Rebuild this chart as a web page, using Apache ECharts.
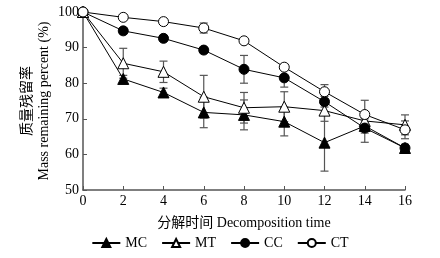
<!DOCTYPE html>
<html>
<head>
<meta charset="utf-8">
<script src="https://cdn.jsdelivr.net/npm/echarts@6/dist/echarts.min.js"></script>
<style>
html,body{margin:0;padding:0;background:#fff;}
#main{width:440px;height:258px;}
</style>
</head>
<body>
<div id="main"></div>
<script>
var days = [0, 2, 4, 6, 8, 10, 12, 14, 16];
var names = ['MC', 'MT', 'CC', 'CT'];
var mcVal = [100, 81.2, 77.4, 71.8, 71.1, 69.2, 63.3, 68.0, 61.8];
var mtVal = [100, 85.6, 83.2, 76.2, 73.1, 73.4, 72.3, 69.4, 68.3];
var ccVal = [100, 94.7, 92.6, 89.3, 83.9, 81.5, 74.8, 67.4, 61.8];
var ctVal = [100, 98.5, 97.3, 95.5, 91.9, 84.5, 77.6, 71.2, 66.9];
var mcErr = [0, 1.0, 1.2, 4.3, 4.2, 4.0, 8.0, 2.0, 1.0];
var mtErr = [0, 4.2, 3.0, 6.0, 4.3, 4.2, 3.0, 2.0, 2.8];
var ccErr = [0, 0.8, 0.8, 0.8, 3.9, 2.6, 1.5, 4.0, 1.0];
var ctErr = [0, 0.5, 0.5, 1.4, 0.5, 0.8, 2.0, 4.0, 2.5];

var font = "'Times New Roman','Liberation Serif','Noto Sans CJK SC',serif";

function pts(vals) {
    return days.map(function (d, i) { return [d, vals[i]]; });
}
function errData(vals, errs) {
    return days.map(function (d, i) { return [d, vals[i] - errs[i], vals[i] + errs[i]]; });
}
// 误差线
function errSeries(vals, errs) {
    return {
        type: 'custom',
        silent: true,
        z: 1,
        data: errData(vals, errs),
        renderItem: function (params, api) {
            var lo = api.coord([api.value(0), api.value(1)]);
            var hi = api.coord([api.value(0), api.value(2)]);
            var w = 4;
            var st = { stroke: '#555', lineWidth: 1.2 };
            return {
                type: 'group',
                children: [
                    { type: 'line', shape: { x1: lo[0], y1: lo[1], x2: hi[0], y2: hi[1] }, style: st },
                    { type: 'line', shape: { x1: lo[0] - w, y1: lo[1], x2: lo[0] + w, y2: lo[1] }, style: st },
                    { type: 'line', shape: { x1: hi[0] - w, y1: hi[1], x2: hi[0] + w, y2: hi[1] }, style: st }
                ]
            };
        }
    };
}
function lineSeries(name, vals, symbol, filled) {
    return {
        name: name,
        type: 'line',
        z: 3,
        data: pts(vals),
        symbol: symbol,
        symbolSize: symbol === 'triangle' ? 11 : 10,
        lineStyle: { color: '#000', width: 1 },
        itemStyle: { color: filled ? '#000' : '#fff', borderColor: '#000', borderWidth: 1 },
        emphasis: { disabled: true }
    };
}

var myChart = echarts.init(document.getElementById('main'));
var option = {
    animation: false,
    backgroundColor: '#fff',
    textStyle: { fontFamily: font },
    grid: { left: 83, right: 35, top: 12, bottom: 68 },
    legend: {
        data: names,
        bottom: 3,
        left: 'center',
        itemWidth: 28,
        itemHeight: 10,
        itemGap: 14,
        textStyle: { fontFamily: font, fontSize: 14, color: '#000' }
    },
    xAxis: {
        type: 'value',
        min: 0,
        max: 16,
        interval: 2,
        name: '分解时间 Decomposition time',
        nameLocation: 'middle',
        nameGap: 26,
        nameMoveOverlap: false,
        nameTextStyle: { fontFamily: font, fontSize: 14, color: '#000' },
        axisLine: { lineStyle: { color: '#555', width: 1.5 } },
        axisTick: { inside: true, length: 4, lineStyle: { color: '#555' } },
        axisLabel: { fontFamily: font, fontSize: 14, color: '#000', margin: 4 },
        splitLine: { show: false }
    },
    yAxis: {
        type: 'value',
        min: 50,
        max: 100,
        interval: 10,
        name: '质量残留率\nMass remaining percent (%)',
        nameLocation: 'middle',
        nameRotate: 90,
        nameGap: 30,
        nameMoveOverlap: false,
        nameTextStyle: { fontFamily: font, fontSize: 14, color: '#000', lineHeight: 17 },
        axisLine: { show: true, lineStyle: { color: '#555', width: 1.5 } },
        axisTick: { show: true, inside: true, length: 4, lineStyle: { color: '#555' } },
        axisLabel: { fontFamily: font, fontSize: 14, color: '#000', margin: 4 },
        splitLine: { show: false }
    },
    series: [
        errSeries(mcVal, mcErr),
        errSeries(mtVal, mtErr),
        errSeries(ccVal, ccErr),
        errSeries(ctVal, ctErr),
        lineSeries('MC', mcVal, 'triangle', true),
        lineSeries('MT', mtVal, 'triangle', false),
        lineSeries('CC', ccVal, 'circle', true),
        lineSeries('CT', ctVal, 'circle', false)
    ]
};
myChart.setOption(option);
</script>
</body>
</html>
